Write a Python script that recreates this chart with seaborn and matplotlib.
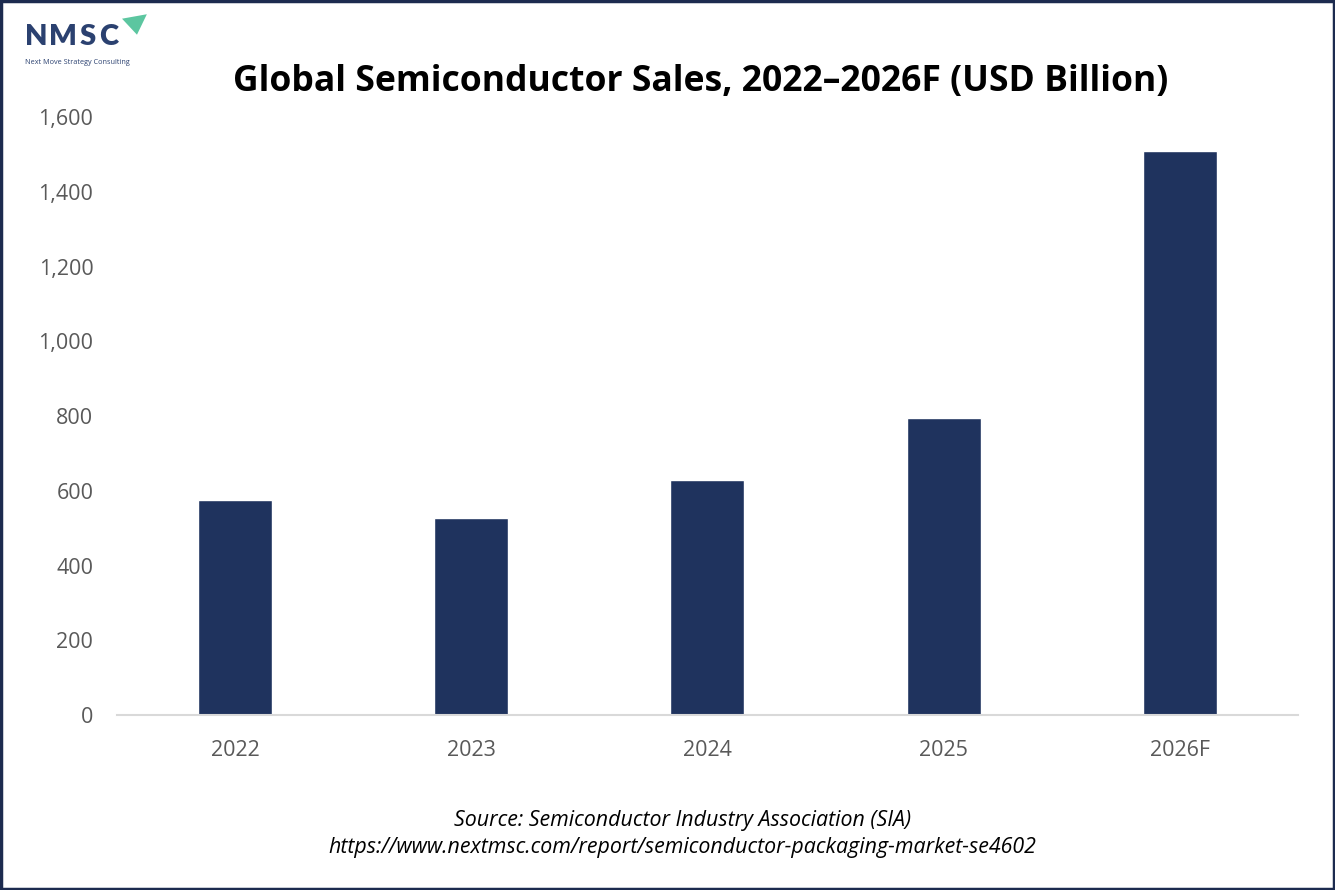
import matplotlib
matplotlib.use('Agg')
import matplotlib.pyplot as plt
import matplotlib.patches as mpatches
import seaborn as sns
import pandas as pd
from matplotlib.ticker import FuncFormatter

# Veriler
years = ['2022', '2023', '2024', '2025', '2026F']
sales = [574, 527, 629, 795, 1509]

bar_color = '#1f335e'
navy = '#1c2b4f'
logo_color = '#2b4170'

sns.set_theme(style='white')
plt.rcParams['font.family'] = ['Open Sans', 'DejaVu Sans']

df = pd.DataFrame({'year': years, 'sales': sales})

fig = plt.figure(figsize=(13.35, 8.9), dpi=100)
ax = fig.add_axes([0.0876, 0.1966, 0.8846, 0.6719])

sns.barplot(data=df, x='year', y='sales', color=bar_color, width=0.313,
            saturation=1, ax=ax)

ax.set_ylim(0, 1600)
ax.set_xlim(-0.5, len(years) - 0.5)
ax.set_yticks(range(0, 1601, 200))
ax.yaxis.set_major_formatter(FuncFormatter(lambda v, p: f'{int(v):,}'))
ax.set_xlabel('')
ax.set_ylabel('')
for side in ['top', 'right', 'left']:
    ax.spines[side].set_visible(False)
ax.spines['bottom'].set_color('#d9d9d9')
ax.spines['bottom'].set_linewidth(1.5)
ax.tick_params(axis='y', length=0, pad=17, labelsize=15.5, labelcolor='#595959')
ax.tick_params(axis='x', length=0, pad=18, labelsize=15.5, labelcolor='#595959')

# Başlık
fig.text(0.525, 0.908, 'Global Semiconductor Sales, 2022\u20132026F (USD Billion)',
         ha='center', va='center', fontsize=25.6, fontweight='bold', color='black')

# Kaynak
fig.text(0.511, 0.078, 'Source: Semiconductor Industry Association (SIA)',
         ha='center', va='center', fontsize=15.4, style='italic', color='black')
fig.text(0.511, 0.048, 'https://www.nextmsc.com/report/semiconductor-packaging-market-se4602',
         ha='center', va='center', fontsize=15.4, style='italic', color='black')

# Logo (harfler aralıklı)
for letter, lx in zip('NMSC', [25, 49, 80, 99]):
    fig.text(lx / 1335, 0.958, letter, ha='left', va='center', fontsize=21,
             fontweight='heavy', color=logo_color, family=['Lato', 'DejaVu Sans'])
fig.text(0.019, 0.930, 'Next Move Strategy Consulting', ha='left', va='center',
         fontsize=5.2, color=logo_color)
tri = mpatches.Polygon([[0.0914, 0.979], [0.110, 0.984], [0.1026, 0.961]],
                       closed=True, transform=fig.transFigure,
                       facecolor='#5cc6a0', edgecolor='none')
fig.patches.append(tri)

# Çerçeve
border = mpatches.Rectangle((0.001, 0.0015), 0.998, 0.997, transform=fig.transFigure,
                            fill=False, edgecolor=navy, linewidth=2.5)
fig.patches.append(border)

fig.savefig('out.png', dpi=100)
plt.close(fig)
